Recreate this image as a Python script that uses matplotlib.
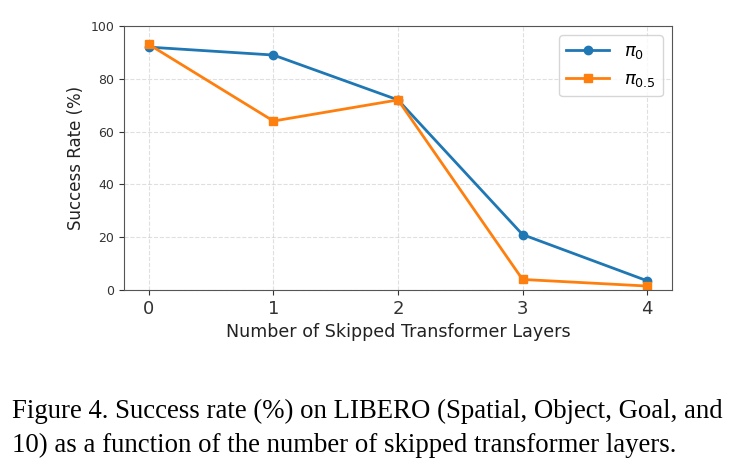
import matplotlib.pyplot as plt

# Data
skipped_layers = [0, 1, 2, 3, 4]
pi0_success = [92, 89, 72, 21, 3.5]
pi05_success = [93, 64, 72, 4, 1.5]

caption_lines = [
    "Figure 4. Success rate (%) on LIBERO (Spatial, Object, Goal, and",
    "10) as a function of the number of skipped transformer layers.",
]

fig = plt.figure(figsize=(7.4, 4.73), dpi=100)
ax = fig.add_axes([124 / 740, 1 - 290 / 473, 548 / 740, 264 / 473])

ax.plot(skipped_layers, pi0_success, marker='o', color='#1f77b4',
        linewidth=2, markersize=6, label=r'$\pi_0$')
ax.plot(skipped_layers, pi05_success, marker='s', color='#ff7f0e',
        linewidth=2, markersize=6, label=r'$\pi_{0.5}$')

ax.set_ylim(0, 100)
ax.set_xticks(skipped_layers)
ax.tick_params(axis='x', labelsize=13, colors='#333333')
ax.tick_params(axis='y', labelsize=9, colors='#333333')
ax.set_xlabel('Number of Skipped Transformer Layers', fontsize=12.6, color='#222222')
ax.set_ylabel('Success Rate (%)', fontsize=12, color='#222222')
ax.grid(True, linestyle='--', alpha=0.4)
for spine in ax.spines.values():
    spine.set_color('#555555')

ax.legend(fontsize=13, loc='upper right', handlelength=2.4)

# caption below the chart, baselines at ~418 and ~452 px
for i, line in enumerate(caption_lines):
    fig.text(12 / 740, 1 - (418 + 34 * i) / 473, line, family='Liberation Serif',
             fontsize=19.3, va='baseline', ha='left')

fig.savefig('out.png', dpi=100)
